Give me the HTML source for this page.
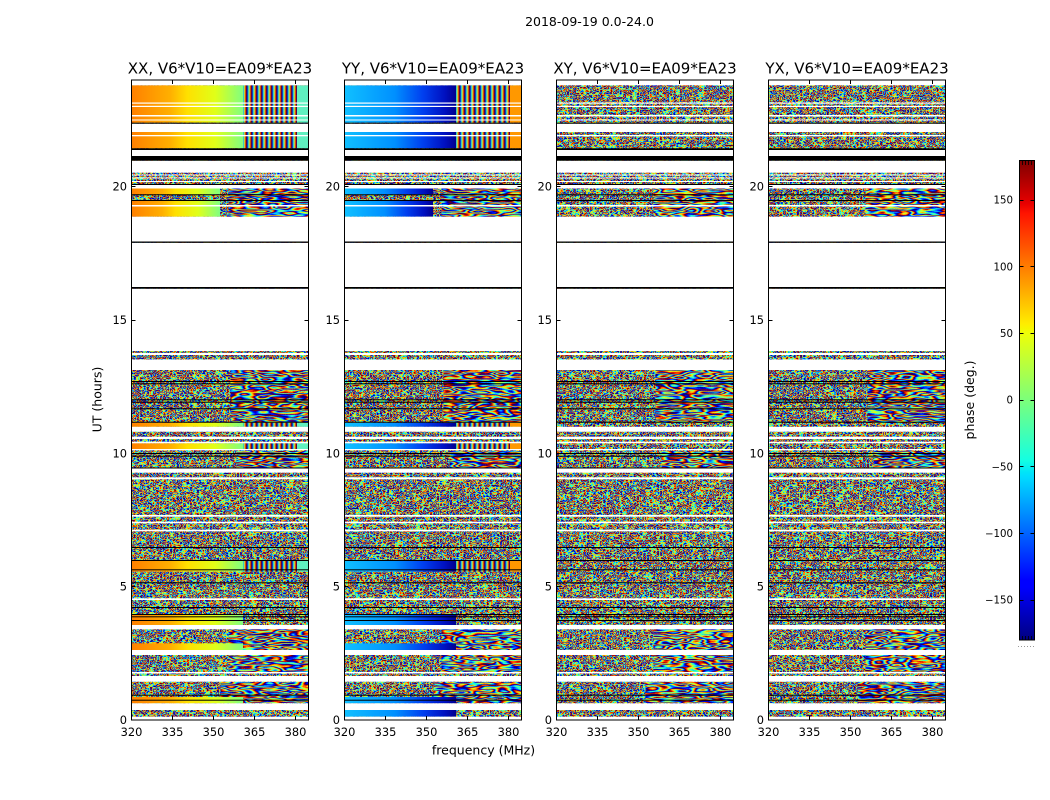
<!DOCTYPE html>
<html><head><meta charset="utf-8"><style>html,body{margin:0;padding:0;background:#fff}svg{display:block}</style></head>
<body>
<svg width="1050" height="800" viewBox="0 0 1050 800" xmlns="http://www.w3.org/2000/svg" xmlns:xlink="http://www.w3.org/1999/xlink" font-family="'DejaVu Sans','Liberation Sans',sans-serif">
<defs>
<filter id="nz" x="0" y="0" width="1" height="1" color-interpolation-filters="sRGB">
<feTurbulence type="fractalNoise" baseFrequency="0.3 0.4" numOctaves="1" seed="7"/>
<feColorMatrix type="matrix" values="1 0 0 0 0 1 0 0 0 0 1 0 0 0 0 0 0 0 0 1"/>
<feComponentTransfer>
<feFuncR type="table" tableValues=".48 .89 1 1 .55 0 0 0 .08 .48 .89 1 1 .55 0 0 0 .08 .48 .89 1 1 .55 0 0 0 .08 .48 .89 1 1 .55 0 0 0 .08 .48"/>
<feFuncG type="table" tableValues="1 1 .59 .13 0 0 0 .5 1 1 1 .59 .13 0 0 0 .5 1 1 1 .59 .13 0 0 0 .5 1 1 1 .59 .13 0 0 0 .5 1 1"/>
<feFuncB type="table" tableValues=".48 .08 0 0 0 .5 1 1 .89 .48 .08 0 0 0 .5 1 1 .89 .48 .08 0 0 0 .5 1 1 .89 .48 .08 0 0 0 .5 1 1 .89 .48"/>
</feComponentTransfer>
</filter>
<filter id="sw" x="0" y="0" width="1" height="1" color-interpolation-filters="sRGB">
<feTurbulence type="fractalNoise" baseFrequency="0.035 0.2" numOctaves="2" seed="3"/>
<feColorMatrix type="matrix" values="1 0 0 0 0 1 0 0 0 0 1 0 0 0 0 0 0 0 0 1"/>
<feComponentTransfer>
<feFuncR type="table" tableValues="0 0 0 .08 .48 .89 1 1 .55 0 0 0 .08 .48 .89 1 1 .55 0 0 0 .08 .48 .89 1 1 .55 0 0 0 .08 .48 .89 1 1 .55 0 0 0 .08 .48 .89 1 1 .55 0 0 0 .08 .48 .89 1 1 .55 0"/>
<feFuncG type="table" tableValues="0 0 .5 1 1 1 .59 .13 0 0 0 .5 1 1 1 .59 .13 0 0 0 .5 1 1 1 .59 .13 0 0 0 .5 1 1 1 .59 .13 0 0 0 .5 1 1 1 .59 .13 0 0 0 .5 1 1 1 .59 .13 0 0"/>
<feFuncB type="table" tableValues=".5 1 1 .89 .48 .08 0 0 0 .5 1 1 .89 .48 .08 0 0 0 .5 1 1 .89 .48 .08 0 0 0 .5 1 1 .89 .48 .08 0 0 0 .5 1 1 .89 .48 .08 0 0 0 .5 1 1 .89 .48 .08 0 0 0 .5"/>
</feComponentTransfer>
</filter>
<linearGradient id="jet" x1="0" y1="1" x2="0" y2="0">
<stop offset="0" stop-color="#000080"/><stop offset="0.11" stop-color="#0000ff"/><stop offset="0.125" stop-color="#0000ff"/>
<stop offset="0.34" stop-color="#00dbff"/><stop offset="0.35" stop-color="#00e5f8"/><stop offset="0.375" stop-color="#14ffe2"/>
<stop offset="0.5" stop-color="#7bff7b"/><stop offset="0.64" stop-color="#eeff08"/><stop offset="0.65" stop-color="#f7f500"/>
<stop offset="0.66" stop-color="#ffec00"/><stop offset="0.89" stop-color="#ff1300"/><stop offset="0.91" stop-color="#e80000"/>
<stop offset="1" stop-color="#800000"/>
</linearGradient>
<linearGradient id="wm" x1="0" y1="0" x2="1" y2="0">
<stop offset="0" stop-color="#ff8000"/><stop offset="0.35" stop-color="#ffb000"/><stop offset="0.5" stop-color="#ffe000"/>
<stop offset="0.75" stop-color="#e0ff18"/><stop offset="1" stop-color="#80ff80"/>
</linearGradient>
<linearGradient id="bl" x1="0" y1="0" x2="1" y2="0">
<stop offset="0" stop-color="#10c0ff"/><stop offset="0.45" stop-color="#0090ff"/><stop offset="0.7" stop-color="#0040f0"/>
<stop offset="0.9" stop-color="#0010c0"/><stop offset="1" stop-color="#000090"/>
</linearGradient>
<pattern id="st" x="0" y="0" width="5" height="4" patternUnits="userSpaceOnUse">
<rect x="0" y="0" width="1" height="4" fill="#00008f"/><rect x="1" y="0" width="1" height="4" fill="#0090ff"/>
<rect x="2" y="0" width="1" height="4" fill="#80ff80"/><rect x="3" y="0" width="1" height="4" fill="#ffa000"/>
<rect x="4" y="0" width="1" height="4" fill="#b00000"/>
</pattern>
<g id="gaps">
<g fill="#fff">
<rect x="0" y="80" width="177" height="5.3"/>
<rect x="0" y="102.5" width="177" height="1.2"/>
<rect x="0" y="105.8" width="177" height="1.2"/>
<rect x="0" y="115" width="177" height="1.5"/>
<rect x="0" y="119.5" width="177" height="1"/>
<rect x="0" y="123.7" width="177" height="8.3"/>
<rect x="0" y="135" width="177" height="1.3"/>
<rect x="0" y="150" width="177" height="6"/>
<rect x="0" y="160.7" width="177" height="12"/>
<rect x="0" y="174.5" width="177" height="1"/>
<rect x="0" y="177.5" width="177" height="1"/>
<rect x="0" y="181" width="177" height="1"/>
<rect x="0" y="185" width="177" height="3.5"/>
<rect x="0" y="205" width="177" height="1.5"/>
<rect x="0" y="216.7" width="177" height="24.8"/>
<rect x="0" y="242.8" width="177" height="44.2"/>
<rect x="0" y="288.7" width="177" height="62.3"/>
<rect x="0" y="353" width="177" height="2"/>
<rect x="0" y="359.5" width="177" height="10.5"/>
<rect x="0" y="426.8" width="177" height="4.9"/>
<rect x="0" y="436.7" width="177" height="2.3"/>
<rect x="0" y="441.7" width="177" height="1.6"/>
<rect x="0" y="449" width="177" height="1.3"/>
<rect x="0" y="468.3" width="177" height="4.4"/>
<rect x="0" y="477.3" width="177" height="2"/>
<rect x="0" y="515" width="177" height="1.7"/>
<rect x="0" y="521.7" width="177" height="1.6"/>
<rect x="0" y="529.7" width="177" height="1.6"/>
<rect x="0" y="598.3" width="177" height="1.7"/>
<rect x="0" y="625" width="177" height="4.3"/>
<rect x="0" y="650" width="177" height="5"/>
<rect x="0" y="672" width="177" height="1.5"/>
<rect x="0" y="676" width="177" height="5.7"/>
<rect x="0" y="703.3" width="177" height="6.7"/>
<rect x="0" y="716.7" width="177" height="3.3"/>
</g>
<g fill="#000">
<rect x="0" y="122.7" width="177" height="1"/>
<rect x="0" y="148.3" width="177" height="1.7"/>
<rect x="0" y="156" width="177" height="4.7"/>
<rect x="0" y="184" width="177" height="1"/>
<rect x="0" y="194.3" width="177" height="1"/>
<rect x="0" y="200" width="177" height="1"/>
<rect x="0" y="241.5" width="177" height="1.3"/>
<rect x="0" y="287" width="177" height="1.7"/>
<rect x="0" y="381" width="177" height="1"/>
<rect x="0" y="383.3" width="177" height="1"/>
<rect x="0" y="399.3" width="177" height="1"/>
<rect x="0" y="401.7" width="177" height="1"/>
<rect x="0" y="408.3" width="177" height="1"/>
<rect x="0" y="421.7" width="177" height="1"/>
<rect x="0" y="453" width="177" height="1"/>
<rect x="0" y="455.7" width="177" height="1"/>
<rect x="0" y="467.5" width="177" height="1"/>
<rect x="0" y="547" width="177" height="1"/>
<rect x="0" y="560" width="177" height="1"/>
<rect x="0" y="569.3" width="177" height="1"/>
<rect x="0" y="582.3" width="177" height="1"/>
<rect x="0" y="607" width="177" height="1"/>
<rect x="0" y="614" width="177" height="1"/>
<rect x="0" y="616.3" width="177" height="1"/>
<rect x="0" y="620" width="177" height="1"/>
<rect x="0" y="694.7" width="177" height="1"/>
<rect x="0" y="699.7" width="177" height="1"/>
</g>
</g>
<g id="frame" fill="none" stroke="#000" stroke-width="1">
<rect x="0" y="80" width="177" height="640"/>
<path d="M0 586.5h4M0 453.5h4M0 320.5h4M0 186.5h4M177 586.5h-4M177 453.5h-4M177 320.5h-4M177 186.5h-4M41 720v-4M82 720v-4M123 720v-4M164 720v-4M41 80v4M82 80v4M123 80v4M164 80v4"/>
</g>
</defs>

<rect x="0" y="0" width="1050" height="800" fill="#fff"/>

<!-- noise base -->
<rect x="131.5" y="85" width="177" height="632" filter="url(#nz)"/>
<rect x="344.5" y="85" width="177" height="632" filter="url(#nz)"/>
<rect x="556.5" y="85" width="177" height="632" filter="url(#nz)"/>
<rect x="768.5" y="85" width="177" height="632" filter="url(#nz)"/>

<!-- swirl regions on right -->
<rect x="228.5" y="188.5" width="80" height="28.2" filter="url(#sw)"/>
<rect x="230.5" y="370" width="78" height="53" filter="url(#sw)"/>
<rect x="236.5" y="451" width="72" height="17" filter="url(#sw)"/>
<rect x="228.5" y="629" width="80" height="21" filter="url(#sw)"/>
<rect x="228.5" y="655" width="80" height="17" filter="url(#sw)"/>
<rect x="220.5" y="682" width="88" height="21" filter="url(#sw)"/>

<rect x="441.5" y="188.5" width="80" height="28.2" filter="url(#sw)"/>
<rect x="443.5" y="370" width="78" height="53" filter="url(#sw)"/>
<rect x="449.5" y="451" width="72" height="17" filter="url(#sw)"/>
<rect x="441.5" y="629" width="80" height="21" filter="url(#sw)"/>
<rect x="441.5" y="655" width="80" height="17" filter="url(#sw)"/>
<rect x="433.5" y="682" width="88" height="21" filter="url(#sw)"/>

<rect x="653.5" y="188.5" width="80" height="28.2" filter="url(#sw)"/>
<rect x="655.5" y="370" width="78" height="53" filter="url(#sw)"/>
<rect x="661.5" y="451" width="72" height="17" filter="url(#sw)"/>
<rect x="653.5" y="629" width="80" height="21" filter="url(#sw)"/>
<rect x="653.5" y="655" width="80" height="17" filter="url(#sw)"/>
<rect x="645.5" y="682" width="88" height="21" filter="url(#sw)"/>

<rect x="865.5" y="188.5" width="80" height="28.2" filter="url(#sw)"/>
<rect x="867.5" y="370" width="78" height="53" filter="url(#sw)"/>
<rect x="873.5" y="451" width="72" height="17" filter="url(#sw)"/>
<rect x="865.5" y="629" width="80" height="21" filter="url(#sw)"/>
<rect x="865.5" y="655" width="80" height="17" filter="url(#sw)"/>
<rect x="857.5" y="682" width="88" height="21" filter="url(#sw)"/>

<!-- XX smooth bands -->
<g transform="translate(131.5,0)">
<g fill="url(#wm)">
<rect x="0" y="85.3" width="111.5" height="37.4"/>
<rect x="0" y="132" width="111.5" height="16.3"/>
<rect x="0" y="422.7" width="111.5" height="4.1"/>
<rect x="0" y="443.3" width="111.5" height="5.7"/>
<rect x="0" y="560" width="111.5" height="11.7"/>
<rect x="0" y="615" width="111.5" height="10"/>
<rect x="0" y="643.3" width="111.5" height="6.7"/>
<rect x="0" y="697" width="111.5" height="6.3"/>
<rect x="0" y="188.5" width="88.5" height="5.8"/>
<rect x="0" y="200.5" width="88.5" height="16.2"/>
</g>
<g fill="url(#st)">
<rect x="111.5" y="85.3" width="54" height="37.4"/>
<rect x="111.5" y="132" width="54" height="16.3"/>
<rect x="111.5" y="422.7" width="54" height="4.1"/>
<rect x="111.5" y="443.3" width="54" height="5.7"/>
<rect x="111.5" y="560" width="54" height="11.7"/>
</g>
<g fill="#60f0c0">
<rect x="165.5" y="85.3" width="11.5" height="37.4"/>
<rect x="165.5" y="132" width="11.5" height="16.3"/>
<rect x="165.5" y="422.7" width="11.5" height="4.1"/>
<rect x="165.5" y="443.3" width="11.5" height="5.7"/>
<rect x="165.5" y="560" width="11.5" height="11.7"/>
</g>
</g>

<!-- YY smooth bands -->
<g transform="translate(344.5,0)">
<g fill="url(#bl)">
<rect x="0" y="85.3" width="111.5" height="37.4"/>
<rect x="0" y="132" width="111.5" height="16.3"/>
<rect x="0" y="422.7" width="111.5" height="4.1"/>
<rect x="0" y="443.3" width="111.5" height="5.7"/>
<rect x="0" y="560" width="111.5" height="11.7"/>
<rect x="0" y="615" width="111.5" height="10"/>
<rect x="0" y="643.3" width="111.5" height="6.7"/>
<rect x="0" y="697" width="111.5" height="6.3"/>
<rect x="0" y="710" width="111.5" height="6.7"/>
<rect x="0" y="188.5" width="88.5" height="5.8"/>
<rect x="0" y="200.5" width="88.5" height="16.2"/>
</g>
<g fill="url(#st)">
<rect x="111.5" y="85.3" width="54" height="37.4"/>
<rect x="111.5" y="132" width="54" height="16.3"/>
<rect x="111.5" y="422.7" width="54" height="4.1"/>
<rect x="111.5" y="443.3" width="54" height="5.7"/>
<rect x="111.5" y="560" width="54" height="11.7"/>
</g>
<g fill="#ff9800">
<rect x="165.5" y="85.3" width="11.5" height="37.4"/>
<rect x="165.5" y="132" width="11.5" height="16.3"/>
<rect x="165.5" y="422.7" width="11.5" height="4.1"/>
<rect x="165.5" y="443.3" width="11.5" height="5.7"/>
<rect x="165.5" y="560" width="11.5" height="11.7"/>
</g>
</g>

<!-- gaps, flag lines, frames -->
<use xlink:href="#gaps" href="#gaps" transform="translate(131.5,0)"/>
<use xlink:href="#gaps" href="#gaps" transform="translate(344.5,0)"/>
<use xlink:href="#gaps" href="#gaps" transform="translate(556.5,0)"/>
<use xlink:href="#gaps" href="#gaps" transform="translate(768.5,0)"/>
<use xlink:href="#frame" href="#frame" transform="translate(131.5,0)"/>
<use xlink:href="#frame" href="#frame" transform="translate(344.5,0)"/>
<use xlink:href="#frame" href="#frame" transform="translate(556.5,0)"/>
<use xlink:href="#frame" href="#frame" transform="translate(768.5,0)"/>

<!-- text -->
<text x="589.5" y="26" font-size="12.5" text-anchor="middle" fill="#000">2018-09-19 0.0-24.0</text>
<g font-size="15" text-anchor="middle" fill="#000">
<text x="220" y="73.5">XX, V6*V10=EA09*EA23</text>
<text x="433" y="73.5">YY, V6*V10=EA09*EA23</text>
<text x="645" y="73.5">XY, V6*V10=EA09*EA23</text>
<text x="857" y="73.5">YX, V6*V10=EA09*EA23</text>
</g>
<g font-size="11.4" text-anchor="middle" fill="#000">
<text x="131.5" y="736">320</text><text x="172.5" y="736">335</text><text x="213.5" y="736">350</text><text x="254.5" y="736">365</text><text x="295.5" y="736">380</text>
<text x="344.5" y="736">320</text><text x="385.5" y="736">335</text><text x="426.5" y="736">350</text><text x="467.5" y="736">365</text><text x="508.5" y="736">380</text>
<text x="556.5" y="736">320</text><text x="597.5" y="736">335</text><text x="638.5" y="736">350</text><text x="679.5" y="736">365</text><text x="720.5" y="736">380</text>
<text x="768.5" y="736">320</text><text x="809.5" y="736">335</text><text x="850.5" y="736">350</text><text x="891.5" y="736">365</text><text x="932.5" y="736">380</text>
</g>
<g font-size="11.4" text-anchor="end" fill="#000">
<text x="127" y="724">0</text><text x="127" y="590.7">5</text><text x="127" y="457.3">10</text><text x="127" y="324">15</text><text x="127" y="190.7">20</text>
<text x="340" y="724">0</text><text x="340" y="590.7">5</text><text x="340" y="457.3">10</text><text x="340" y="324">15</text><text x="340" y="190.7">20</text>
<text x="552" y="724">0</text><text x="552" y="590.7">5</text><text x="552" y="457.3">10</text><text x="552" y="324">15</text><text x="552" y="190.7">20</text>
<text x="764" y="724">0</text><text x="764" y="590.7">5</text><text x="764" y="457.3">10</text><text x="764" y="324">15</text><text x="764" y="190.7">20</text>
</g>
<text x="483.5" y="754.5" font-size="12.5" text-anchor="middle" fill="#000">frequency (MHz)</text>
<text transform="translate(101.5,399.5) rotate(-90)" font-size="12.5" text-anchor="middle" fill="#000">UT (hours)</text>

<!-- colorbar -->
<rect x="1019.5" y="160.5" width="15" height="479.5" fill="url(#jet)" stroke="#000" stroke-width="1"/>
<path d="M1019.5 200.5h4M1030.5 200.5h4M1019.5 266.5h4M1030.5 266.5h4M1019.5 333.5h4M1030.5 333.5h4M1019.5 400.5h4M1030.5 400.5h4M1019.5 466.5h4M1030.5 466.5h4M1019.5 533.5h4M1030.5 533.5h4M1019.5 600.5h4M1030.5 600.5h4" stroke="#000" stroke-width="1"/>
<path d="M1022.5 161v4M1025.5 161v4M1028.5 161v4M1031.5 161v4M1022.5 640v-4M1025.5 640v-4M1028.5 640v-4M1031.5 640v-4" stroke="#000" stroke-width="0.8"/>
<line x1="1018" y1="646.5" x2="1035" y2="646.5" stroke="#999" stroke-width="1" stroke-dasharray="1 2"/>
<g font-size="10.2" text-anchor="end" fill="#000">
<text x="1013" y="203.7">150</text><text x="1013" y="270.4">100</text><text x="1013" y="337">50</text><text x="1013" y="403.7">0</text>
<text x="1013" y="470.4">−50</text><text x="1013" y="537">−100</text><text x="1013" y="603.7">−150</text>
</g>
<text transform="translate(974,400) rotate(-90)" font-size="12.5" text-anchor="middle" fill="#000">phase (deg.)</text>
</svg>
</body></html>
